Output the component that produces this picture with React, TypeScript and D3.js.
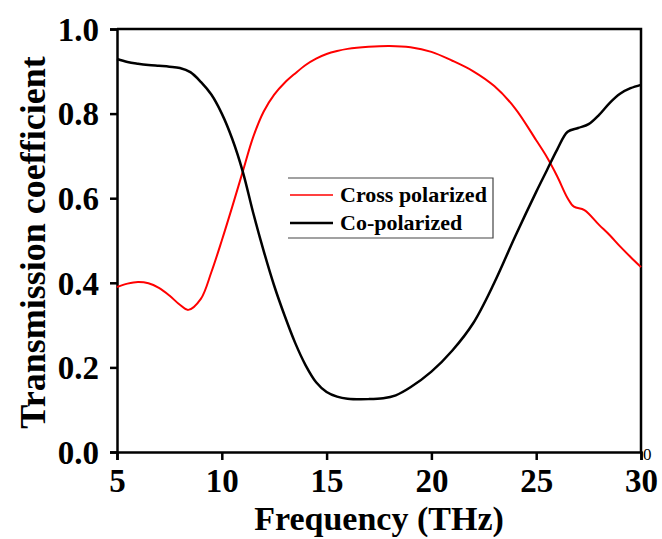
import { useEffect, useRef } from 'react';
import * as d3 from 'd3';

const crossFreq = [5, 5.5, 6, 6.5, 7, 7.5, 8, 8.4, 9, 9.5, 10, 10.5, 11, 11.5, 12, 12.5, 13, 13.5, 14, 14.5, 15, 15.5, 16, 17, 18, 19, 20, 21, 22, 23, 24, 25, 25.5, 26, 26.5, 26.8, 27.3, 28, 28.5, 29, 29.5, 30];
const crossValues = [0.39, 0.398, 0.402, 0.399, 0.388, 0.37, 0.348, 0.336, 0.362, 0.425, 0.5, 0.58, 0.663, 0.745, 0.805, 0.845, 0.873, 0.895, 0.915, 0.93, 0.941, 0.948, 0.953, 0.958, 0.96, 0.957, 0.946, 0.925, 0.9, 0.865, 0.812, 0.737, 0.698, 0.652, 0.6, 0.58, 0.572, 0.537, 0.513, 0.486, 0.461, 0.437];

const coFreq = [5, 5.5, 6, 6.5, 7, 7.5, 8, 8.5, 9, 9.5, 10, 10.5, 11, 11.5, 12, 12.5, 13, 13.5, 14, 14.5, 15, 15.5, 16, 17, 17.7, 18.3, 19, 20, 21, 22, 23, 24, 25, 25.5, 26, 26.5, 27, 27.5, 28, 28.5, 29, 29.5, 30];
const coValues = [0.929, 0.922, 0.918, 0.915, 0.913, 0.911, 0.908, 0.898, 0.875, 0.845, 0.8, 0.74, 0.663, 0.565, 0.475, 0.393, 0.322, 0.258, 0.205, 0.165, 0.142, 0.131, 0.126, 0.125, 0.127, 0.134, 0.153, 0.19, 0.24, 0.305, 0.4, 0.51, 0.615, 0.665, 0.715, 0.757, 0.766, 0.775, 0.797, 0.825, 0.847, 0.86, 0.868];

const xTicks = [5, 10, 15, 20, 25, 30];
const yTicks = [0, 0.2, 0.4, 0.6, 0.8, 1.0];

const seriesNames = ['Cross polarized', 'Co-polarized'];
const seriesColors = ['#ff0000', '#000000'];

const App = () => {
  const svgRef = useRef(null);

  useEffect(() => {
    const svg = d3.select(svgRef.current);
    svg.selectAll('*').remove();

    const left = 117, right = 641, top = 29, bottom = 452;
    const x = d3.scaleLinear().domain([5, 30]).range([left, right]);
    const y = d3.scaleLinear().domain([0, 1]).range([bottom, top]);
    const font = '"Liberation Serif", "Times New Roman", serif';

    // frame (top + right)
    svg.append('path')
      .attr('d', `M${left},${top}H${right}V${bottom}`)
      .attr('fill', 'none')
      .attr('stroke', '#000')
      .attr('stroke-width', 2.5);

    const xAxis = svg.append('g')
      .attr('transform', `translate(0,${bottom})`)
      .call(d3.axisBottom(x).tickValues(xTicks).tickSize(8).tickPadding(9).tickFormat(d3.format('d')));
    const yAxis = svg.append('g')
      .attr('transform', `translate(${left},0)`)
      .call(d3.axisLeft(y).tickValues(yTicks).tickSize(7).tickPadding(11).tickFormat(d3.format('.1f')));

    [xAxis, yAxis].forEach(g => {
      g.select('.domain').attr('stroke-width', 2.5);
      g.selectAll('.tick line').attr('stroke-width', 2.5);
      g.selectAll('.tick text')
        .attr('font-family', font)
        .attr('font-weight', 'bold')
        .attr('font-size', 33)
        .attr('fill', '#000');
    });
    yAxis.selectAll('.tick text').attr('dy', '0.34em');

    const line = d3.line().curve(d3.curveCatmullRom.alpha(0.5));
    const series = [
      { f: crossFreq, v: crossValues, w: 2 },
      { f: coFreq, v: coValues, w: 2.5 },
    ];
    series.forEach((s, i) => {
      svg.append('path')
        .attr('d', line(s.f.map((f, j) => [x(f), y(s.v[j])])))
        .attr('fill', 'none')
        .attr('stroke', seriesColors[i])
        .attr('stroke-width', s.w);
    });

    // legend
    const lg = svg.append('g');
    lg.append('path')
      .attr('d', 'M288,178H493V238H288')
      .attr('fill', 'none')
      .attr('stroke', '#444')
      .attr('stroke-width', 1.2);
    seriesNames.forEach((name, i) => {
      const ly = 195 + i * 28;
      lg.append('line')
        .attr('x1', 290).attr('x2', 333)
        .attr('y1', ly).attr('y2', ly)
        .attr('stroke', seriesColors[i])
        .attr('stroke-width', i === 0 ? 1.5 : 2.5);
      lg.append('text')
        .attr('x', 340).attr('y', ly + 7)
        .attr('font-family', font)
        .attr('font-weight', 'bold')
        .attr('font-size', 22)
        .text(name);
    });

    // axis titles
    svg.append('text')
      .attr('x', 379)
      .attr('y', 530)
      .attr('text-anchor', 'middle')
      .attr('font-family', font)
      .attr('font-weight', 'bold')
      .attr('font-size', 34)
      .text('Frequency (THz)');
    svg.append('text')
      .attr('transform', `translate(45,${(top + bottom) / 2 + 2}) rotate(-90)`)
      .attr('text-anchor', 'middle')
      .attr('font-family', font)
      .attr('font-weight', 'bold')
      .attr('font-size', 36)
      .text('Transmission coefficient');

    svg.append('text')
      .attr('x', 643).attr('y', 460)
      .attr('font-family', font)
      .attr('font-size', 17)
      .text('0');
  }, []);

  return (
    <svg ref={svgRef} width={662} height={539}
      style={{ position: 'absolute', left: 0, top: 0, background: '#fff' }} />
  );
};

export default App;
